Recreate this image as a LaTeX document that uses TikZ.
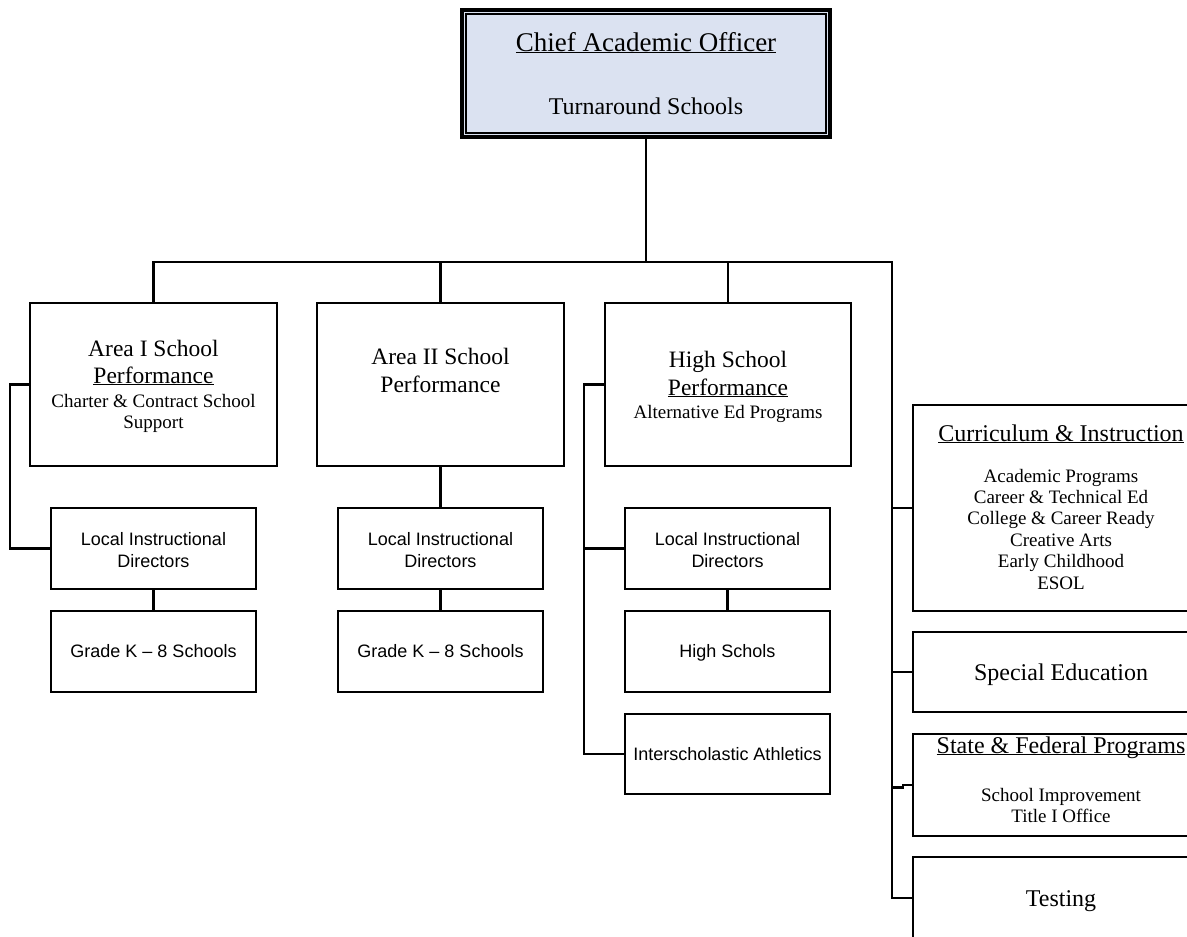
\documentclass[tikz,border=0pt]{standalone}
\usepackage{fontspec}
\setmainfont{Liberation Serif}
\newfontfamily\sansf{Liberation Sans}
\definecolor{caofill}{RGB}{219,226,241}
\newcommand\myul[1]{\setbox0=\hbox{#1}\rlap{\rule[-0.09em]{\wd0}{0.055em}}\box0}
\tikzset{
  box/.style={draw, line width=2.8pt, rectangle, inner sep=0pt, outer sep=0pt},
  conn/.style={line width=2.4pt},
  ser/.style={font=\fontsize{#1}{#1}\selectfont, anchor=base, inner sep=0pt},
  sans/.style={font=\sansf\fontsize{18}{18}\selectfont, anchor=base, inner sep=0pt}
}
\begin{document}
\begin{tikzpicture}[x=1pt,y=-1pt]
\useasboundingbox (0,0) rectangle (1187,937);
\clip (0,0) rectangle (1187,937);
% top box
\node[box, line width=3.2pt, fill=caofill, minimum width=368, minimum height=127] (cao) at (646,73.5) {};
\draw[line width=1.6pt] ([shift={(4.2,4.2)}]cao.north west) rectangle ([shift={(-4.2,-4.2)}]cao.south east);
\node[ser=27] (caot) at (646,51) {\myul{Chief Academic Officer}};
\node[ser=24] (caos) at (646,114) {Turnaround Schools};
% second row
\node[box, minimum width=247, minimum height=163] (a1) at (153.5,384.5) {};
\node[box, minimum width=247, minimum height=163] (a2) at (440.5,384.5) {};
\node[box, minimum width=246, minimum height=163] (hs) at (728,384.5) {};
\node[ser=23.5] (a1t1) at (153.5,356) {Area I School};
\node[ser=23.5] (a1t2) at (153.5,383) {\myul{Performance}};
\node[ser=19] (a1t3) at (153.5,407) {Charter \& Contract School};
\node[ser=19] (a1t4) at (153.5,428) {Support};
\node[ser=23.5] (a2t1) at (440.5,364) {Area II School};
\node[ser=23.5] (a2t2) at (440.5,392) {Performance};
\node[ser=23.5] (hst1) at (728,367) {High School};
\node[ser=23.5] (hst2) at (728,395) {\myul{Performance}};
\node[ser=19] (hst3) at (728,418) {Alternative Ed Programs};
% third / fourth rows
\node[box, minimum width=205, minimum height=81] (lid1) at (153.5,548.5) {};
\node[box, minimum width=205, minimum height=81] (lid2) at (440.5,548.5) {};
\node[box, minimum width=205, minimum height=81] (lid3) at (727.5,548.5) {};
\node[box, minimum width=205, minimum height=81] (g1) at (153.5,651.5) {};
\node[box, minimum width=205, minimum height=81] (g2) at (440.5,651.5) {};
\node[box, minimum width=205, minimum height=81] (hsch) at (727.5,651.5) {};
\node[box, minimum width=205, minimum height=80] (ath) at (727.5,754) {};
\foreach \x/\n in {153.5/1,440.5/2,727.5/3}{
  \node[sans] (lidt\n a) at (\x,545) {Local Instructional};
  \node[sans] (lidt\n b) at (\x,567) {Directors};
}
\node[sans] (g1t) at (153.5,657) {Grade K – 8 Schools};
\node[sans] (g2t) at (440.5,657) {Grade K – 8 Schools};
\node[sans] (hscht) at (727.5,657) {High Schols};
\node[sans] (atht) at (727.5,760) {Interscholastic Athletics};
% right column
\node[box, minimum width=297, minimum height=206] (cur) at (1061.5,508) {};
\node[box, minimum width=297, minimum height=80] (sped) at (1061.5,672) {};
\node[box, minimum width=297, minimum height=102] (st) at (1061.5,785) {};
\node[box, minimum width=297, minimum height=82] (test) at (1061.5,898) {};
\node[ser=24] (curt) at (1061,441) {\myul{Curriculum \& Instruction}};
\foreach \t [count=\i] in {Academic Programs,Career \& Technical Ed,College \& Career Ready,Creative Arts,Early Childhood,ESOL}{
  \node[ser=19] (cur\i) at (1061,{482+21.4*(\i-1)}) {\t};
}
\node[ser=24] (spedt) at (1061,680) {Special Education};
\node[ser=24] (stt) at (1061,753) {\myul{State \& Federal Programs}};
\node[ser=19] (st1) at (1061,801) {School Improvement};
\node[ser=19] (st2) at (1061,822) {Title I Office};
\node[ser=24] (testt) at (1061,906) {Testing};
% connectors
\coordinate (bus) at (646,262);
\coordinate (br) at (892,262);
\draw[conn] (cao.south) -- (bus);
\draw[conn] (a1.north) -- (a1.north |- bus) -- (br) -- (br |- test.west) -- (test.west);
\draw[conn] (a2.north) -- (a2.north |- bus);
\draw[conn] (hs.north) -- (hs.north |- bus);
\draw[conn] (br |- cur.west) -- (cur.west);
\draw[conn] (br |- sped.west) -- (sped.west);
\draw[conn] (st.west) -- ++(-10,0) -- ++(0,2.5) -- (br |- 0,787.5);
\draw[conn] (a1.west) -- ++(-20,0) |- (lid1.west);
\draw[conn] (lid1.south) -- (g1.north);
\draw[conn] (a2.south) -- (lid2.north);
\draw[conn] (lid2.south) -- (g2.north);
\draw[conn] (hs.west) -- ++(-21,0) |- (lid3.west);
\draw[conn] (hs.west) ++(-21,0) |- (ath.west);
\draw[conn] (lid3.south) -- (hsch.north);
\end{tikzpicture}
\end{document}
